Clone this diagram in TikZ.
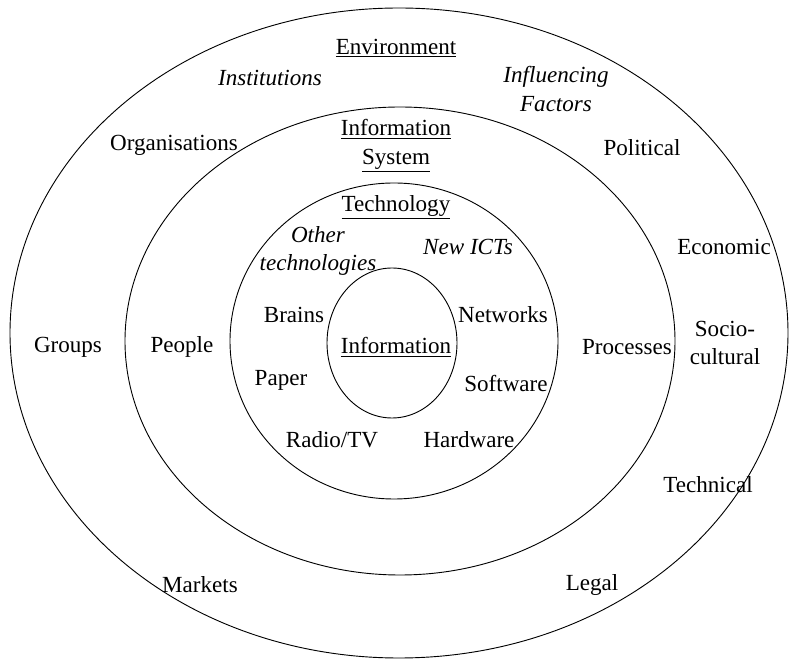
\documentclass[tikz,border=0pt]{standalone}
\usepackage{fontspec}
\setmainfont{Liberation Serif}
\usetikzlibrary{positioning}

\begin{document}
\begin{tikzpicture}[x=0.025cm, y=-0.025cm]
        \tikzset{
            ring/.style={draw, line width=0.65pt},
            item/.style={font=\fontsize{16.4}{20.5}\selectfont, align=center, inner sep=0pt},
            factor/.style={item, font=\fontsize{16.4}{20.5}\selectfont\itshape}
        }
        \useasboundingbox (0,0) rectangle (791,661);

        % nested rings, outer to inner
        \draw[ring] (399,333) ellipse [x radius=389, y radius=325];
        \draw[ring] (400,341) ellipse [x radius=275, y radius=234];
        \draw[ring] (394,341) ellipse [x radius=164, y radius=158];
        \draw[ring] (392,343) ellipse [x radius=65, y radius=75];

        % environment ring
        \node[item] (env) at (396,48) {\underline{Environment}};
        \node[factor] (inst) at (270,78) {Institutions};
        \node[factor] (infl) at (556,89) {Influencing\\Factors};
        \node[item] (orgs) at (174,145) {Organisations};
        \node[item] (pol) at (642,148) {Political};
        \node[item] (econ) at (724,247) {Economic};
        \node[item] (groups) at (68,347) {Groups};
        \node[item] (socio) at (725,343) {Socio-\\cultural};
        \node[item] (techn) at (708,485) {Technical};
        \node[item] (markets) at (200,585) {Markets};
        \node[item] (legal) at (592,585) {Legal};

        % information system ring
        \node[item] (is) at (396,146) {\underline{Information}\\\underline{System}};
        \node[item] (people) at (182,347) {People};
        \node[item] (proc) at (627,347) {Processes};

        % technology ring
        \node[item] (tech) at (396,207) {\underline{Technology}};
        \node[factor] (other) at (318,251) {Other\\technologies};
        \node[factor] (icts) at (468,247) {New ICTs};
        \node[item] (brains) at (294,315) {Brains};
        \node[item] (nets) at (503,315) {Networks};
        \node[item] (paper) at (281,380) {Paper};
        \node[item] (soft) at (506,383) {Software};
        \node[item] (radio) at (332,440) {Radio/TV};
        \node[item] (hard) at (469,440) {Hardware};

        % core
        \node[item] (info) at (396,347) {\underline{Information}};

    \end{tikzpicture}
\end{document}
